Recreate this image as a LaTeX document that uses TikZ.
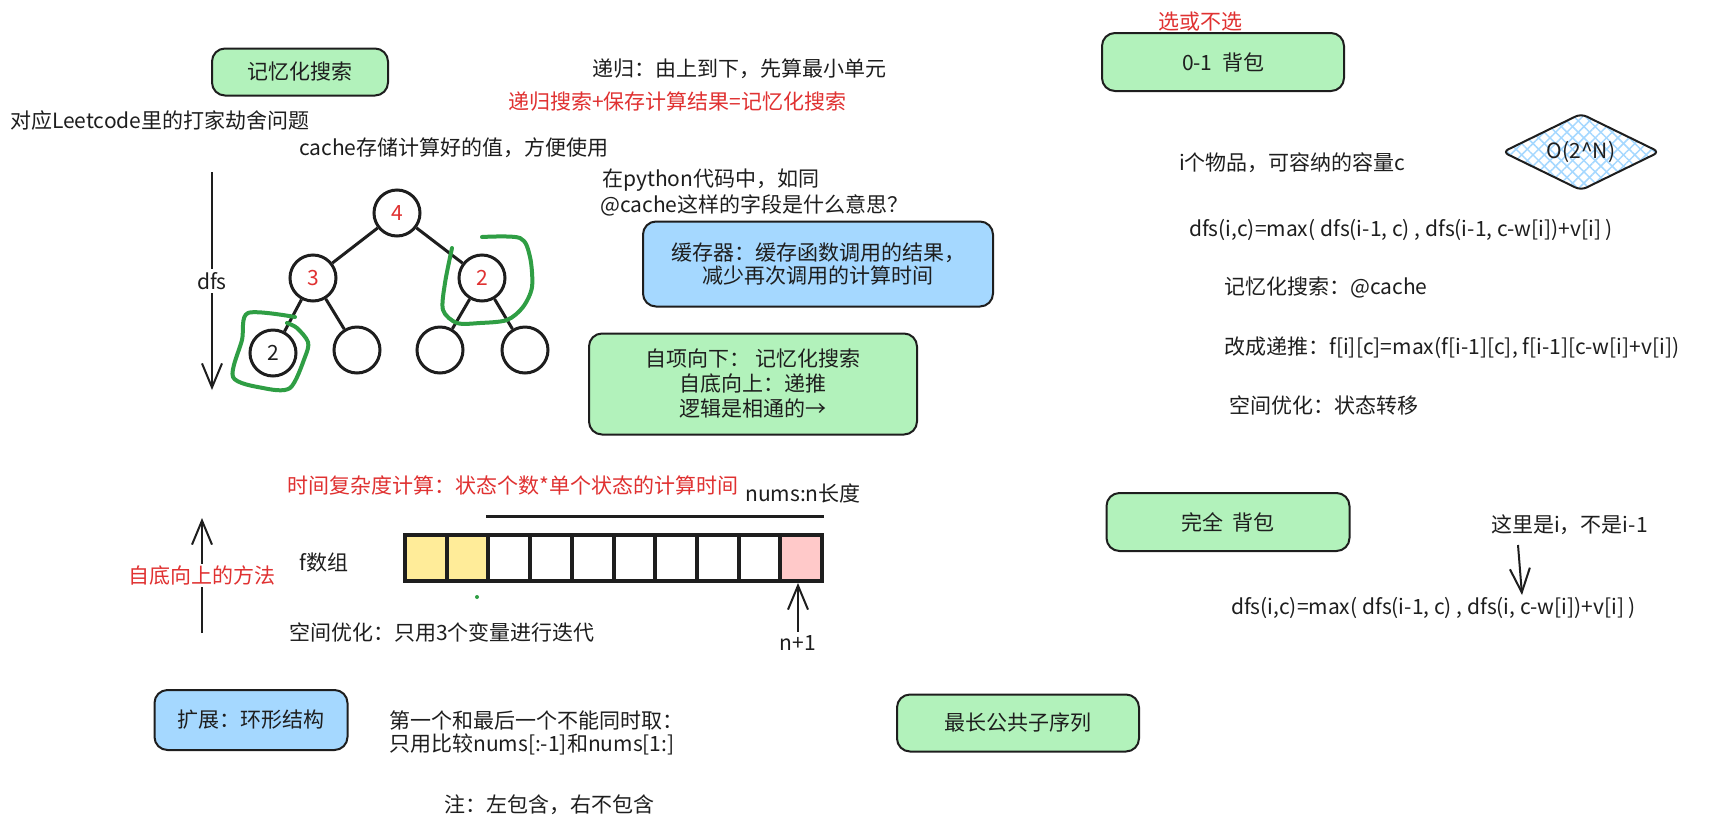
\documentclass[tikz,border=0pt]{standalone}
\usepackage{fontspec}
\setmainfont{Noto Sans CJK SC}
\usetikzlibrary{arrows.meta,shapes.geometric,patterns.meta}
\definecolor{inkblack}{HTML}{1E1E1E}
\definecolor{boxgreen}{HTML}{B2F2BB}
\definecolor{boxblue}{HTML}{A5D8FF}
\definecolor{cellyellow}{HTML}{FFEC99}
\definecolor{cellpink}{HTML}{FFC9C9}
\definecolor{notered}{HTML}{E03131}
\definecolor{markgreen}{HTML}{2F9E44}

\begin{document}
\begin{tikzpicture}[x=1pt,y=-1pt,
    every node/.style={font=\fontsize{21}{25}\selectfont, text=inkblack},
    txt/.style={anchor=west, inner sep=0pt},
    redtxt/.style={txt, text=notered},
    card/.style={draw=inkblack, line width=2pt, rounded corners=13pt, align=center, inner sep=0pt},
    greencard/.style={card, fill=boxgreen},
    bluecard/.style={card, fill=boxblue},
    tnode/.style={circle, draw=inkblack, line width=3pt, minimum size=46pt, inner sep=0pt, fill=white},
    edge/.style={draw=inkblack, line width=3pt},
    arr/.style={draw=inkblack, line width=2pt, -{Straight Barb[length=24pt,width=20pt]}},
    hlmark/.style={draw=markgreen, line width=4pt, line cap=round, line join=round},
    cell/.style={draw=inkblack, line width=4pt, minimum width=41.7pt, minimum height=46pt, inner sep=0pt}]
		\useasboundingbox (0,0) rectangle (1715,828);
		\fill[white] (0,0) rectangle (1715,828);

		% memo search, top left
		\node[greencard, minimum width=176pt, minimum height=47pt] (memo) at (300,72) {记忆化搜索};
		\node[txt] (recur) at (592,69) {递归：由上到下，先算最小单元};
		\node[redtxt] (memoeq) at (508,102) {递归搜索+保存计算结果=记忆化搜索};
		\node[txt] (leet) at (10,121) {对应Leetcode里的打家劫舍问题};
		\node[txt] (cachenote) at (299,148) {cache存储计算好的值，方便使用};
		\node[txt] (pyq1) at (602,180) {在python代码中，如同};
		\node[txt] (pyq2) at (600,205) {@cache这样的字段是什么意思？};
		\node[bluecard, minimum width=350pt, minimum height=85pt, font=\fontsize{21}{23}\selectfont] (cacher) at (818,264) {缓存器：缓存函数调用的结果，\\减少再次调用的计算时间};
		\node[greencard, minimum width=328pt, minimum height=101pt, font=\fontsize{21}{25}\selectfont] (topdown) at (753,384) {自项向下：~记忆化搜索\\自底向上：递推\\逻辑是相通的→};

		% recursion tree
		\node[tnode, text=notered] (t4) at (397,213) {4};
		\node[tnode, text=notered] (t3) at (313,278) {3};
		\node[tnode, text=notered] (t2) at (482,278) {2};
		\node[tnode] (b1) at (273,353) {2};
		\node[tnode] (b2) at (357,350) {};
		\node[tnode] (b3) at (440,350) {};
		\node[tnode] (b4) at (525,350) {};
		\foreach \p/\c in {t4/t3,t4/t2,t3/b1,t3/b2,t2/b3,t2/b4}
			\draw[edge] (\p) -- (\c);

		\draw[hlmark] plot[smooth] coordinates {(295,317) (248,313) (242,340) (233,377) (263,388) (290,388) (305,357) (308,342) (297,328) (287,323)};
		\draw[hlmark] plot[smooth] coordinates {(482,237) (520,238) (530,257) (532,287) (523,307) (507,320) (480,323) (457,323) (443,310) (445,283) (452,248)};

		\coordinate (dfsa) at (212,172);
		\coordinate (dfsb) at (212,390);
		\draw[arr] (dfsa) -- node[fill=white, inner sep=3pt] (dfslbl) {dfs} (dfsb);

		% f array
		\def \ax {405}
		\def \cw {41.7}
		\def \ay {558}
		\node[redtxt] (timecx) at (287,485) {时间复杂度计算：状态个数*单个状态的计算时间};
		\foreach \i/\c in {0/cellyellow,1/cellyellow,2/white,3/white,4/white,5/white,6/white,7/white,8/white,9/cellpink}
			\node[cell, fill=\c] (f\i) at (\ax+\i*\cw+\cw/2, \ay) {};
		\draw[draw=inkblack, line width=3pt] ([yshift=17pt]f2.north west) -- ([yshift=17pt]f9.north east);
		\node[txt] (numslen) at (745,493) {nums:n长度};
		\node[txt] (farr) at (299,563) {f数组};
		\fill[markgreen] (477,597) circle (2pt);
		\node[txt] (spaceopt) at (289,632) {空间优化：只用3个变量进行迭代};
		\node (nplus) at (798,643) {n+1};
		\draw[arr] (nplus.north) -- (nplus.north |- f9.south);

		\coordinate (upa) at (202,633);
		\coordinate (upb) at (202,518);
		\draw[arr] (upa) -- node[fill=white, text=notered, inner sep=2pt] (uplbl) {自底向上的方法} (upb);

		% ring
		\node[bluecard, minimum width=193pt, minimum height=60pt] (ring) at (251,720) {扩展：环形结构};
		\node[txt, align=left, font=\fontsize{21}{23}\selectfont] (ringnote) at (389,733) {第一个和最后一个不能同时取：\\只用比较nums[:-1]和nums[1:]};
		\node[txt] (slicenote) at (444,805) {注：左包含，右不包含};
		\node[greencard, minimum width=242pt, minimum height=57pt] (lcs) at (1018,723) {最长公共子序列};

		% knapsack
		\node[redtxt] (pick) at (1158,22) {选或不选};
		\node[greencard, minimum width=242pt, minimum height=58pt] (zeroone) at (1223,62) {0-1~~背包};
		\node[diamond, aspect=2, draw=inkblack, line width=2pt, rounded corners=6pt, minimum width=157pt, minimum height=77pt, inner sep=0pt,
			preaction={pattern={Lines[angle=45,distance=8pt,line width=1.5pt]}, pattern color=boxblue},
			pattern={Lines[angle=-45,distance=8pt,line width=1.5pt]}, pattern color=boxblue] (bigo) at (1581,152) {O(2\textasciicircum N)};
		\node[txt] (items) at (1179,163) {i个物品，可容纳的容量c};
		\node[txt] (dfsone) at (1189,230) {dfs(i,c)=max( dfs(i-1, c) , dfs(i-1, c-w[i])+v[i] )};
		\node[txt] (memocache) at (1224,287) {记忆化搜索：@cache};
		\node[txt] (iter) at (1224,348) {改成递推：f[i][c]=max(f[i-1][c], f[i-1][c-w[i]+v[i])};
		\node[txt] (stateopt) at (1229,405) {空间优化：状态转移};

		\node[greencard, minimum width=243pt, minimum height=58pt] (complete) at (1228,522) {完全~~背包};
		\node[txt] (hint) at (1491,525) {这里是i，不是i-1};
		\coordinate (hinta) at (1518,545);
		\coordinate (hintb) at (1522,595);
		\draw[arr] (hinta) -- (hintb);
		\node[txt] (dfstwo) at (1231,608) {dfs(i,c)=max( dfs(i-1, c) , dfs(i, c-w[i])+v[i] )};
	\end{tikzpicture}
\end{document}
